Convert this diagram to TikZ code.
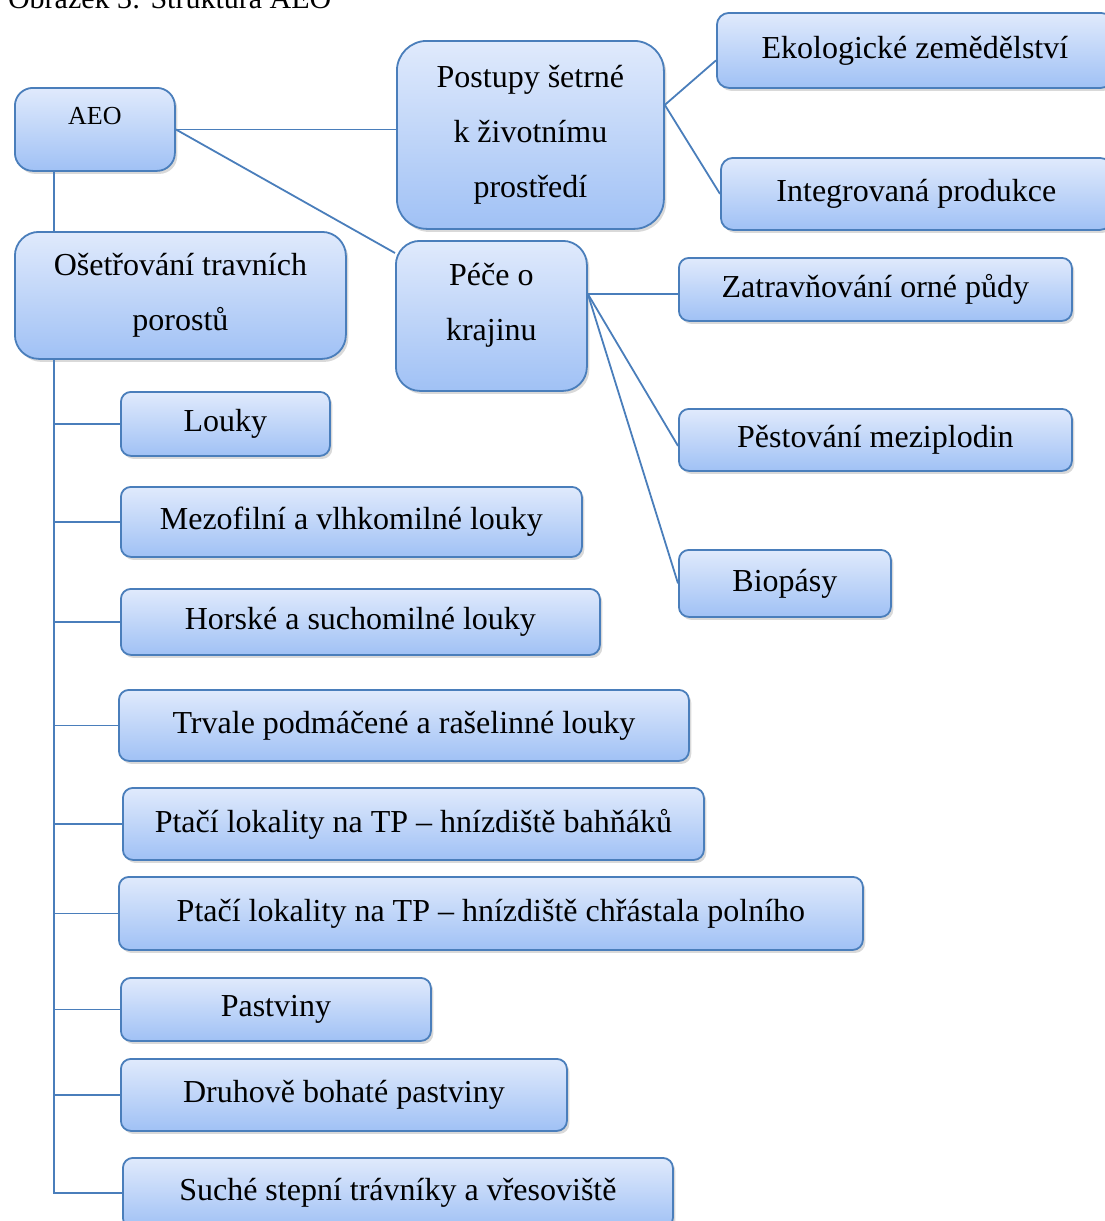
\documentclass[tikz,border=0pt]{standalone}
\usepackage{fontspec}
\setmainfont{Liberation Serif}
\usetikzlibrary{shadows,calc}
\definecolor{boxline}{RGB}{74,126,187}
\definecolor{boxtop}{RGB}{224,234,252}
\definecolor{boxbot}{RGB}{160,193,245}

\begin{document}
\begin{tikzpicture}[x=0.5pt,y=-0.5pt,
  box/.style={rectangle,draw=boxline,line width=0.9pt,top color=boxtop,bottom color=boxbot,
    rounded corners=5pt,anchor=north west,inner sep=0pt,align=center,
    font=\fontsize{16}{27.5}\selectfont,
    drop shadow={opacity=0.3,shadow xshift=1.2pt,shadow yshift=-1.5pt}},
  link/.style={draw=boxline,line width=0.9pt}]
\useasboundingbox (0,0) rectangle (1104,1221);
\node[anchor=base west,font=\fontsize{15}{18}\selectfont] (cap) at (1,8) {Obrázek 3: Struktura AEO};
% top row
\node[box,minimum width=80pt,minimum height=41.5pt,rounded corners=9pt,
  font=\fontsize{13}{16}\selectfont,text depth=14pt] (aeo) at (14,87) {AEO};
\node[box,minimum width=133.5pt,minimum height=94pt,rounded corners=15pt] (post) at (396,40)
  {Postupy šetrné\\k životnímu\\prostředí};
\node[box,minimum width=198pt,minimum height=37.5pt,rounded corners=6pt] (eko) at (716,12) {Ekologické zemědělství};
\node[box,minimum width=195.5pt,minimum height=36pt,rounded corners=6pt] (integ) at (720,157) {Integrovaná produkce};
% second level
\node[box,minimum width=165.5pt,minimum height=63.5pt,rounded corners=12pt] (ose) at (14,231)
  {Ošetřování travních\\porostů};
\node[box,minimum width=95.5pt,minimum height=75pt,rounded corners=12pt,text depth=14pt] (pece) at (395,240)
  {Péče o\\krajinu};
\node[box,minimum width=196.5pt,minimum height=31.5pt] (zatr) at (678,257) {Zatravňování orné půdy};
\node[box,minimum width=196.5pt,minimum height=31pt] (pest) at (678,408) {Pěstování meziplodin};
\node[box,minimum width=106pt,minimum height=33.5pt] (bio) at (678,549) {Biopásy};
% grassland list
\node[box,minimum width=104.5pt,minimum height=32pt] (louky) at (120,391) {Louky};
\node[box,minimum width=230.5pt,minimum height=35pt] (mezo) at (120,486) {Mezofilní a vlhkomilné louky};
\node[box,minimum width=239.5pt,minimum height=33pt] (horske) at (120,588) {Horské a suchomilné louky};
\node[box,minimum width=285pt,minimum height=35.5pt] (trvale) at (118,689) {Trvale podmáčené a rašelinné louky};
\node[box,minimum width=290.5pt,minimum height=36pt] (bahn) at (122,787) {Ptačí lokality na TP – hnízdiště bahňáků};
\node[box,minimum width=372pt,minimum height=36.5pt] (chrast) at (118,876) {Ptačí lokality na TP – hnízdiště chřástala polního};
\node[box,minimum width=155pt,minimum height=31.5pt] (past) at (120,977) {Pastviny};
\node[box,minimum width=223pt,minimum height=36pt] (druh) at (120,1058) {Druhově bohaté pastviny};
\node[box,minimum width=275pt,minimum height=35pt] (suche) at (122,1157) {Suché stepní trávníky a vřesoviště};
% links
\draw[link] (aeo.east) -- (aeo.east -| post.west);
\draw[link] (aeo.east) -- ($(pece.north west)+(0,13)$);
\draw[link] ($(aeo.south west)+(40,0)$) -- ($(ose.north west)+(40,0)$);
\coordinate (pr) at ($(post.east)+(0,-30)$);
\draw[link] (pr) -- ($(eko.west)+(0,10)$);
\draw[link] (pr) -- (integ.west);
\coordinate (pk) at ($(pece.east)+(0,-22)$);
\draw[link] (pk) -- (pk -| zatr.west);
\draw[link] (pk) -- ($(pest.west)+(0,6)$);
\draw[link] (pk) -- (bio.west);
\coordinate (spine) at ($(ose.south west)+(40,0)$);
\foreach \n in {louky,mezo,horske,trvale,bahn,chrast,past,druh,suche}
  \draw[link] (spine) |- (\n.west);
\end{tikzpicture}
\end{document}
